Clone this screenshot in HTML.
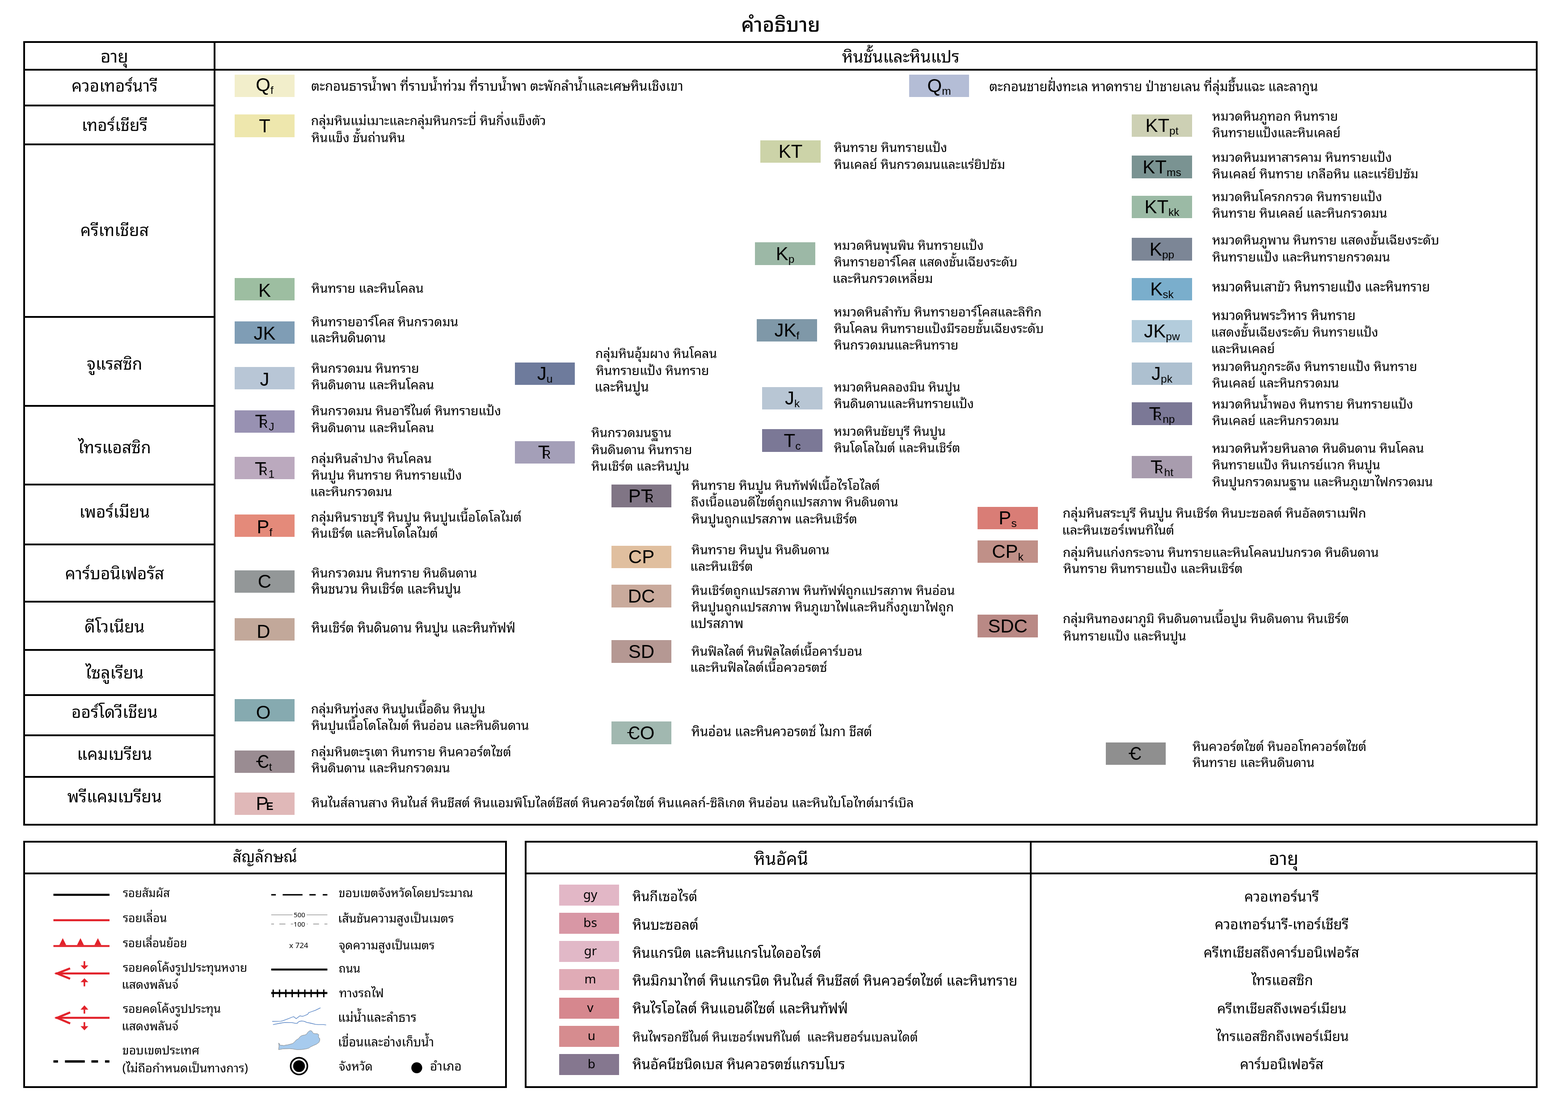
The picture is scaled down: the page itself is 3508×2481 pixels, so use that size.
<!DOCTYPE html>
<html lang="th"><head><meta charset="utf-8"><title>คำอธิบาย</title>
<style>
html,body{margin:0;padding:0;background:#fff}
body{width:3508px;height:2481px;position:relative;overflow:hidden;color:#000}
body>div{position:absolute;white-space:nowrap}
.sw{overflow:visible}
.st{position:absolute;left:0;right:0;top:0;height:100%;text-align:center;font-family:'Liberation Sans',Arial,sans-serif;font-size:42px;line-height:1;white-space:nowrap}
.st{top:calc(50% - 21px);height:auto}
.sb{font-size:24.5px;position:relative;top:6px}
.tr{display:inline-block}
.tr>span{font-size:27px;margin-left:-16.6px;margin-right:2px}
.pe>span{font-size:24px;font-weight:700;margin-left:-5px}
.cb{display:inline-block;position:relative;transform:scaleX(.86);transform-origin:0 50%;margin-right:-4.2px}
.cb::before{content:'';position:absolute;left:-3.4px;width:17px;top:19.4px;height:2.6px;background:#000}
.igt{position:absolute;left:0;right:0;top:0;text-align:center;font-family:'Noto Sans Thai Looped','Noto Sans Thai','Liberation Sans',sans-serif;font-size:28px;line-height:44px}
svg{position:absolute;left:0;top:0}
</style></head><body>
<div style="left:52px;top:92px;width:3388px;height:4px;background:#000;"></div><div style="left:52px;top:1843px;width:3388px;height:4px;background:#000;"></div><div style="left:52px;top:92px;width:4px;height:1755px;background:#000;"></div><div style="left:3436px;top:92px;width:4px;height:1755px;background:#000;"></div><div style="left:478px;top:92px;width:4px;height:1755px;background:#000;"></div><div style="left:52px;top:154px;width:3388px;height:4px;background:#000;"></div><div style="left:52px;top:234px;width:430px;height:4px;background:#000;"></div><div style="left:52px;top:321px;width:430px;height:4px;background:#000;"></div><div style="left:52px;top:707px;width:430px;height:4px;background:#000;"></div><div style="left:52px;top:906px;width:430px;height:4px;background:#000;"></div><div style="left:52px;top:1082px;width:430px;height:4px;background:#000;"></div><div style="left:52px;top:1216px;width:430px;height:4px;background:#000;"></div><div style="left:52px;top:1344px;width:430px;height:4px;background:#000;"></div><div style="left:52px;top:1452px;width:430px;height:4px;background:#000;"></div><div style="left:52px;top:1553px;width:430px;height:4px;background:#000;"></div><div style="left:52px;top:1643px;width:430px;height:4px;background:#000;"></div><div style="left:52px;top:1736px;width:430px;height:4px;background:#000;"></div><div style="left:52px;top:1881px;width:1082px;height:4px;background:#000;"></div><div style="left:52px;top:2430px;width:1082px;height:4px;background:#000;"></div><div style="left:52px;top:1881px;width:4px;height:553px;background:#000;"></div><div style="left:1130px;top:1881px;width:4px;height:553px;background:#000;"></div><div style="left:52px;top:1952px;width:1082px;height:4px;background:#000;"></div><div style="left:1174px;top:1881px;width:2266px;height:4px;background:#000;"></div><div style="left:1174px;top:2430px;width:2266px;height:4px;background:#000;"></div><div style="left:1174px;top:1881px;width:4px;height:553px;background:#000;"></div><div style="left:3436px;top:1881px;width:4px;height:553px;background:#000;"></div><div style="left:2304px;top:1881px;width:4px;height:553px;background:#000;"></div><div style="left:1174px;top:1952px;width:2266px;height:4px;background:#000;"></div>
<div class="sw" style="left:525px;top:167px;width:134px;height:50px;background:#f2eecb"><div class="st" style="transform:translate(0px,-2px)">Q<span class="sb">f</span></div></div><div class="sw" style="left:525px;top:256px;width:134px;height:51px;background:#eee7ad"><div class="st">T</div></div><div class="sw" style="left:525px;top:622px;width:134px;height:50px;background:#9dbea1"><div class="st" style="transform:translate(0px,3px)">K</div></div><div class="sw" style="left:525px;top:719px;width:134px;height:50px;background:#7f9db5"><div class="st" style="transform:translate(0px,2px)">JK</div></div><div class="sw" style="left:525px;top:821px;width:134px;height:50px;background:#b8c6d6"><div class="st" style="transform:translate(0px,3px)">J</div></div><div class="sw" style="left:525px;top:918px;width:134px;height:50px;background:#9891b2"><div class="st"><span class="tr">T<span>R</span></span><span class="sb">J</span></div></div><div class="sw" style="left:525px;top:1022px;width:134px;height:50px;background:#bba9be"><div class="st" style="transform:translate(0px,2px)"><span class="tr">T<span>R</span></span><span class="sb">1</span></div></div><div class="sw" style="left:525px;top:1151px;width:134px;height:50px;background:#e48a7a"><div class="st" style="transform:translate(0px,3px)">P<span class="sb">f</span></div></div><div class="sw" style="left:525px;top:1276px;width:134px;height:50px;background:#939798"><div class="st">C</div></div><div class="sw" style="left:525px;top:1383px;width:134px;height:50px;background:#c2a89a"><div class="st" style="transform:translate(-2.5px,4.5px)">D</div></div><div class="sw" style="left:525px;top:1564px;width:134px;height:50px;background:#86aab0"><div class="st" style="transform:translate(-2.8px,5px)">O</div></div><div class="sw" style="left:525px;top:1679px;width:134px;height:50px;background:#9a8c92"><div class="st"><span class="cb">C</span><span class="sb">t</span></div></div><div class="sw" style="left:525px;top:1773px;width:134px;height:50px;background:#e0b8b8"><div class="st"><span class="pe">P<span>E</span></span></div></div><div class="sw" style="left:1152px;top:811px;width:134px;height:50px;background:#6e7b9c"><div class="st">J<span class="sb">u</span></div></div><div class="sw" style="left:1152px;top:987px;width:134px;height:50px;background:#a49fb8"><div class="st"><span class="tr">T<span>R</span></span></div></div><div class="sw" style="left:1368px;top:1084px;width:134px;height:51px;background:#807585"><div class="st">P<span class="tr">T<span>R</span></span></div></div><div class="sw" style="left:1368px;top:1221px;width:134px;height:50px;background:#e0bf9f"><div class="st">CP</div></div><div class="sw" style="left:1368px;top:1308px;width:134px;height:51px;background:#c9aa9c"><div class="st">DC</div></div><div class="sw" style="left:1368px;top:1432px;width:134px;height:51px;background:#b59893"><div class="st">SD</div></div><div class="sw" style="left:1368px;top:1614px;width:134px;height:51px;background:#a1b8b0"><div class="st"><span class="cb">C</span>O</div></div><div class="sw" style="left:1701px;top:314px;width:135px;height:50px;background:#ccd3a8"><div class="st">KT</div></div><div class="sw" style="left:1689px;top:542px;width:135px;height:51px;background:#9cb8a6"><div class="st">K<span class="sb">p</span></div></div><div class="sw" style="left:1693px;top:714px;width:135px;height:50px;background:#7f98a8"><div class="st">JK<span class="sb">f</span></div></div><div class="sw" style="left:1705px;top:866px;width:135px;height:50px;background:#b8c6d4"><div class="st">J<span class="sb">k</span></div></div><div class="sw" style="left:1705px;top:960px;width:135px;height:51px;background:#7b7896"><div class="st">T<span class="sb">c</span></div></div><div class="sw" style="left:2187px;top:1134px;width:135px;height:50px;background:#d97d76"><div class="st">P<span class="sb">s</span></div></div><div class="sw" style="left:2187px;top:1209px;width:135px;height:50px;background:#c09088"><div class="st">CP<span class="sb">k</span></div></div><div class="sw" style="left:2187px;top:1375px;width:135px;height:51px;background:#b98985"><div class="st">SDC</div></div><div class="sw" style="left:2034px;top:167px;width:134px;height:50px;background:#b4bdd6"><div class="st">Q<span class="sb">m</span></div></div><div class="sw" style="left:2532px;top:256px;width:135px;height:50px;background:#cdd0b4"><div class="st">KT<span class="sb">pt</span></div></div><div class="sw" style="left:2532px;top:348px;width:135px;height:51px;background:#7a9392"><div class="st">KT<span class="sb">ms</span></div></div><div class="sw" style="left:2532px;top:438px;width:135px;height:50px;background:#9bbaa5"><div class="st">KT<span class="sb">kk</span></div></div><div class="sw" style="left:2532px;top:532px;width:135px;height:51px;background:#7c8696"><div class="st">K<span class="sb">pp</span></div></div><div class="sw" style="left:2532px;top:622px;width:135px;height:50px;background:#7aaecc"><div class="st">K<span class="sb">sk</span></div></div><div class="sw" style="left:2532px;top:716px;width:135px;height:50px;background:#b3ccdc"><div class="st">JK<span class="sb">pw</span></div></div><div class="sw" style="left:2532px;top:811px;width:135px;height:50px;background:#adc0d0"><div class="st">J<span class="sb">pk</span></div></div><div class="sw" style="left:2532px;top:900px;width:135px;height:51px;background:#7b7896"><div class="st"><span class="tr">T<span>R</span></span><span class="sb">np</span></div></div><div class="sw" style="left:2532px;top:1020px;width:135px;height:50px;background:#a89cae"><div class="st"><span class="tr">T<span>R</span></span><span class="sb">ht</span></div></div><div class="sw" style="left:2474px;top:1661px;width:134px;height:50px;background:#8f8f8f"><div class="st"><span class="cb">C</span></div></div><div class="sw" style="left:1251px;top:1979px;width:134px;height:47px;background:#e2b7c6"><div class="igt" style="transform:translate(2.5px,-2px)"><span class="ig">gy</span></div></div><div class="sw" style="left:1251px;top:2042px;width:134px;height:47px;background:#d897a5"><div class="igt" style="transform:translate(2.5px,-2px)"><span class="ig">bs</span></div></div><div class="sw" style="left:1251px;top:2105px;width:134px;height:47px;background:#e1b8c7"><div class="igt" style="transform:translate(3px,-2px)"><span class="ig">gr</span></div></div><div class="sw" style="left:1251px;top:2168px;width:134px;height:47px;background:#e0abb6"><div class="igt" style="transform:translate(2.5px,-2px)"><span class="ig">m</span></div></div><div class="sw" style="left:1251px;top:2232px;width:134px;height:47px;background:#d6878e"><div class="igt" style="transform:translate(2.5px,-2px)"><span class="ig">v</span></div></div><div class="sw" style="left:1251px;top:2295px;width:134px;height:47px;background:#d68c8f"><div class="igt" style="transform:translate(5.4px,-2px)"><span class="ig">u</span></div></div><div class="sw" style="left:1251px;top:2358px;width:134px;height:47px;background:#85778f"><div class="igt" style="transform:translate(5.4px,-2px)"><span class="ig">b</span></div></div>
<div style="left:1658.3px;top:17.8px;font-family:'Noto Sans Thai Looped','Noto Sans Thai','Liberation Sans',sans-serif;font-size:44.94px;font-weight:520;line-height:67px;">คำอธิบาย</div><div style="left:224.9px;top:93.7px;font-family:'Noto Sans Thai Looped','Noto Sans Thai','Liberation Sans',sans-serif;font-size:38.67px;font-weight:400;line-height:58px;">อายุ</div><div style="left:1883.9px;top:95.5px;font-family:'Noto Sans Thai Looped','Noto Sans Thai','Liberation Sans',sans-serif;font-size:37.16px;font-weight:400;line-height:56px;">หินชั้นและหินแปร</div><div style="left:-743.7px;top:161.0px;width:2000px;text-align:center;font-family:'Noto Sans Thai Looped','Noto Sans Thai','Liberation Sans',sans-serif;font-size:36.8px;font-weight:400;line-height:55px;">ควอเทอร์นารี</div><div style="left:-743.7px;top:248.5px;width:2000px;text-align:center;font-family:'Noto Sans Thai Looped','Noto Sans Thai','Liberation Sans',sans-serif;font-size:36.8px;font-weight:400;line-height:55px;">เทอร์เชียรี</div><div style="left:-743.7px;top:483.6px;width:2000px;text-align:center;font-family:'Noto Sans Thai Looped','Noto Sans Thai','Liberation Sans',sans-serif;font-size:36.8px;font-weight:400;line-height:55px;">ครีเทเชียส</div><div style="left:-743.7px;top:783.0px;width:2000px;text-align:center;font-family:'Noto Sans Thai Looped','Noto Sans Thai','Liberation Sans',sans-serif;font-size:36.8px;font-weight:400;line-height:55px;">จูแรสซิก</div><div style="left:-743.7px;top:970.0px;width:2000px;text-align:center;font-family:'Noto Sans Thai Looped','Noto Sans Thai','Liberation Sans',sans-serif;font-size:36.8px;font-weight:400;line-height:55px;">ไทรแอสซิก</div><div style="left:-743.7px;top:1114.0px;width:2000px;text-align:center;font-family:'Noto Sans Thai Looped','Noto Sans Thai','Liberation Sans',sans-serif;font-size:36.8px;font-weight:400;line-height:55px;">เพอร์เมียน</div><div style="left:-743.7px;top:1251.5px;width:2000px;text-align:center;font-family:'Noto Sans Thai Looped','Noto Sans Thai','Liberation Sans',sans-serif;font-size:36.8px;font-weight:400;line-height:55px;">คาร์บอนิเฟอรัส</div><div style="left:-743.7px;top:1370.7px;width:2000px;text-align:center;font-family:'Noto Sans Thai Looped','Noto Sans Thai','Liberation Sans',sans-serif;font-size:36.8px;font-weight:400;line-height:55px;">ดีโวเนียน</div><div style="left:-743.7px;top:1474.0px;width:2000px;text-align:center;font-family:'Noto Sans Thai Looped','Noto Sans Thai','Liberation Sans',sans-serif;font-size:36.8px;font-weight:400;line-height:55px;">ไซลูเรียน</div><div style="left:-743.7px;top:1561.8px;width:2000px;text-align:center;font-family:'Noto Sans Thai Looped','Noto Sans Thai','Liberation Sans',sans-serif;font-size:36.8px;font-weight:400;line-height:55px;">ออร์โดวีเชียน</div><div style="left:-743.7px;top:1656.4px;width:2000px;text-align:center;font-family:'Noto Sans Thai Looped','Noto Sans Thai','Liberation Sans',sans-serif;font-size:36.8px;font-weight:400;line-height:55px;">แคมเบรียน</div><div style="left:-743.7px;top:1751.0px;width:2000px;text-align:center;font-family:'Noto Sans Thai Looped','Noto Sans Thai','Liberation Sans',sans-serif;font-size:36.8px;font-weight:400;line-height:55px;">พรีแคมเบรียน</div><div style="left:696.2px;top:168.0px;font-family:'Noto Sans Thai Looped','Noto Sans Thai','Liberation Sans',sans-serif;font-size:29.46px;font-weight:400;line-height:44px;">ตะกอนธารน้ำพา ที่ราบน้ำท่วม ที่ราบน้ำพา ตะพักลำน้ำและเศษหินเชิงเขา</div><div style="left:695.7px;top:246.0px;font-family:'Noto Sans Thai Looped','Noto Sans Thai','Liberation Sans',sans-serif;font-size:28.47px;font-weight:400;line-height:43px;">กลุ่มหินแม่เมาะและกลุ่มหินกระบี่ หินกึ่งแข็งตัว</div><div style="left:696.8px;top:284.0px;font-family:'Noto Sans Thai Looped','Noto Sans Thai','Liberation Sans',sans-serif;font-size:28.52px;font-weight:400;line-height:43px;">หินแข็ง ชั้นถ่านหิน</div><div style="left:696.8px;top:620.5px;font-family:'Noto Sans Thai Looped','Noto Sans Thai','Liberation Sans',sans-serif;font-size:28.56px;font-weight:400;line-height:43px;">หินทราย และหินโคลน</div><div style="left:696.8px;top:695.6px;font-family:'Noto Sans Thai Looped','Noto Sans Thai','Liberation Sans',sans-serif;font-size:28.57px;font-weight:400;line-height:43px;">หินทรายอาร์โคส หินกรวดมน</div><div style="left:693.9px;top:731.0px;font-family:'Noto Sans Thai Looped','Noto Sans Thai','Liberation Sans',sans-serif;font-size:29.1px;font-weight:400;line-height:44px;">และหินดินดาน</div><div style="left:696.8px;top:799.5px;font-family:'Noto Sans Thai Looped','Noto Sans Thai','Liberation Sans',sans-serif;font-size:28.51px;font-weight:400;line-height:43px;">หินกรวดมน หินทราย</div><div style="left:696.8px;top:837.0px;font-family:'Noto Sans Thai Looped','Noto Sans Thai','Liberation Sans',sans-serif;font-size:28.72px;font-weight:400;line-height:43px;">หินดินดาน และหินโคลน</div><div style="left:696.8px;top:894.5px;font-family:'Noto Sans Thai Looped','Noto Sans Thai','Liberation Sans',sans-serif;font-size:28.62px;font-weight:400;line-height:43px;">หินกรวดมน หินอารีไนต์ หินทรายแป้ง</div><div style="left:696.8px;top:932.5px;font-family:'Noto Sans Thai Looped','Noto Sans Thai','Liberation Sans',sans-serif;font-size:28.72px;font-weight:400;line-height:43px;">หินดินดาน และหินโคลน</div><div style="left:695.7px;top:1001.9px;font-family:'Noto Sans Thai Looped','Noto Sans Thai','Liberation Sans',sans-serif;font-size:28.67px;font-weight:400;line-height:43px;">กลุ่มหินลำปาง หินโคลน</div><div style="left:696.8px;top:1038.5px;font-family:'Noto Sans Thai Looped','Noto Sans Thai','Liberation Sans',sans-serif;font-size:28.7px;font-weight:400;line-height:43px;">หินปูน หินทราย หินทรายแป้ง</div><div style="left:693.9px;top:1076.0px;font-family:'Noto Sans Thai Looped','Noto Sans Thai','Liberation Sans',sans-serif;font-size:28.9px;font-weight:400;line-height:43px;">และหินกรวดมน</div><div style="left:695.7px;top:1133.0px;font-family:'Noto Sans Thai Looped','Noto Sans Thai','Liberation Sans',sans-serif;font-size:28.73px;font-weight:400;line-height:43px;">กลุ่มหินราชบุรี หินปูน หินปูนเนื้อโดโลไมต์</div><div style="left:696.8px;top:1170.0px;font-family:'Noto Sans Thai Looped','Noto Sans Thai','Liberation Sans',sans-serif;font-size:28.26px;font-weight:400;line-height:42px;">หินเชิร์ต และหินโดโลไมต์</div><div style="left:696.8px;top:1258.0px;font-family:'Noto Sans Thai Looped','Noto Sans Thai','Liberation Sans',sans-serif;font-size:28.66px;font-weight:400;line-height:43px;">หินกรวดมน หินทราย หินดินดาน</div><div style="left:696.8px;top:1293.4px;font-family:'Noto Sans Thai Looped','Noto Sans Thai','Liberation Sans',sans-serif;font-size:29.03px;font-weight:400;line-height:44px;">หินชนวน หินเชิร์ต และหินปูน</div><div style="left:696.8px;top:1381.0px;font-family:'Noto Sans Thai Looped','Noto Sans Thai','Liberation Sans',sans-serif;font-size:28.95px;font-weight:400;line-height:43px;">หินเชิร์ต หินดินดาน หินปูน และหินทัฟฟ์</div><div style="left:695.7px;top:1563.2px;font-family:'Noto Sans Thai Looped','Noto Sans Thai','Liberation Sans',sans-serif;font-size:28.28px;font-weight:400;line-height:42px;">กลุ่มหินทุ่งสง หินปูนเนื้อดิน หินปูน</div><div style="left:696.8px;top:1599.0px;font-family:'Noto Sans Thai Looped','Noto Sans Thai','Liberation Sans',sans-serif;font-size:28.52px;font-weight:400;line-height:43px;">หินปูนเนื้อโดโลไมต์ หินอ่อน และหินดินดาน</div><div style="left:695.7px;top:1658.3px;font-family:'Noto Sans Thai Looped','Noto Sans Thai','Liberation Sans',sans-serif;font-size:28.69px;font-weight:400;line-height:43px;">กลุ่มหินตะรุเตา หินทราย หินควอร์ตไซต์</div><div style="left:696.8px;top:1694.2px;font-family:'Noto Sans Thai Looped','Noto Sans Thai','Liberation Sans',sans-serif;font-size:28.68px;font-weight:400;line-height:43px;">หินดินดาน และหินกรวดมน</div><div style="left:696.8px;top:1772.0px;font-family:'Noto Sans Thai Looped','Noto Sans Thai','Liberation Sans',sans-serif;font-size:28.79px;font-weight:400;line-height:43px;">หินไนส์ลานสาง หินไนส์ หินชีสต์ หินแอมพิโบไลต์ชีสต์ หินควอร์ตไซต์ หินแคลก์-ซิลิเกต หินอ่อน และหินไบโอไทต์มาร์เบิล</div><div style="left:1332.0px;top:768.4px;font-family:'Noto Sans Thai Looped','Noto Sans Thai','Liberation Sans',sans-serif;font-size:28.16px;font-weight:400;line-height:42px;">กลุ่มหินอุ้มผาง หินโคลน</div><div style="left:1333.1px;top:805.0px;font-family:'Noto Sans Thai Looped','Noto Sans Thai','Liberation Sans',sans-serif;font-size:28.41px;font-weight:400;line-height:43px;">หินทรายแป้ง หินทราย</div><div style="left:1330.2px;top:841.0px;font-family:'Noto Sans Thai Looped','Noto Sans Thai','Liberation Sans',sans-serif;font-size:29.25px;font-weight:400;line-height:44px;">และหินปูน</div><div style="left:1322.9px;top:944.5px;font-family:'Noto Sans Thai Looped','Noto Sans Thai','Liberation Sans',sans-serif;font-size:28.31px;font-weight:400;line-height:42px;">หินกรวดมนฐาน</div><div style="left:1322.9px;top:981.8px;font-family:'Noto Sans Thai Looped','Noto Sans Thai','Liberation Sans',sans-serif;font-size:28.52px;font-weight:400;line-height:43px;">หินดินดาน หินทราย</div><div style="left:1322.9px;top:1019.0px;font-family:'Noto Sans Thai Looped','Noto Sans Thai','Liberation Sans',sans-serif;font-size:28.48px;font-weight:400;line-height:43px;">หินเชิร์ต และหินปูน</div><div style="left:1546.9px;top:1062.2px;font-family:'Noto Sans Thai Looped','Noto Sans Thai','Liberation Sans',sans-serif;font-size:28.67px;font-weight:400;line-height:43px;">หินทราย หินปูน หินทัฟฟ์เนื้อไรโอไลต์</div><div style="left:1545.8px;top:1100.0px;font-family:'Noto Sans Thai Looped','Noto Sans Thai','Liberation Sans',sans-serif;font-size:28.28px;font-weight:400;line-height:42px;">ถึงเนื้อแอนดีไซต์ถูกแปรสภาพ หินดินดาน</div><div style="left:1546.9px;top:1136.7px;font-family:'Noto Sans Thai Looped','Noto Sans Thai','Liberation Sans',sans-serif;font-size:28.64px;font-weight:400;line-height:43px;">หินปูนถูกแปรสภาพ และหินเชิร์ต</div><div style="left:1546.9px;top:1206.0px;font-family:'Noto Sans Thai Looped','Noto Sans Thai','Liberation Sans',sans-serif;font-size:28.81px;font-weight:400;line-height:43px;">หินทราย หินปูน หินดินดาน</div><div style="left:1544.0px;top:1243.0px;font-family:'Noto Sans Thai Looped','Noto Sans Thai','Liberation Sans',sans-serif;font-size:28.78px;font-weight:400;line-height:43px;">และหินเชิร์ต</div><div style="left:1546.9px;top:1296.5px;font-family:'Noto Sans Thai Looped','Noto Sans Thai','Liberation Sans',sans-serif;font-size:28.43px;font-weight:400;line-height:43px;">หินเชิร์ตถูกแปรสภาพ หินทัฟฟ์ถูกแปรสภาพ หินอ่อน</div><div style="left:1546.9px;top:1333.8px;font-family:'Noto Sans Thai Looped','Noto Sans Thai','Liberation Sans',sans-serif;font-size:28.58px;font-weight:400;line-height:43px;">หินปูนถูกแปรสภาพ หินภูเขาไฟและหินกึ่งภูเขาไฟถูก</div><div style="left:1543.9px;top:1370.2px;font-family:'Noto Sans Thai Looped','Noto Sans Thai','Liberation Sans',sans-serif;font-size:29.65px;font-weight:400;line-height:44px;">แปรสภาพ</div><div style="left:1546.9px;top:1433.0px;font-family:'Noto Sans Thai Looped','Noto Sans Thai','Liberation Sans',sans-serif;font-size:28.51px;font-weight:400;line-height:43px;">หินฟิลไลต์ หินฟิลไลต์เนื้อคาร์บอน</div><div style="left:1544.0px;top:1469.0px;font-family:'Noto Sans Thai Looped','Noto Sans Thai','Liberation Sans',sans-serif;font-size:28.85px;font-weight:400;line-height:43px;">และหินฟิลไลต์เนื้อควอรตซ์</div><div style="left:1547.0px;top:1611.7px;font-family:'Noto Sans Thai Looped','Noto Sans Thai','Liberation Sans',sans-serif;font-size:29.08px;font-weight:400;line-height:44px;">หินอ่อน และหินควอรตซ์ ไมกา ชีสต์</div><div style="left:1865.4px;top:305.7px;font-family:'Noto Sans Thai Looped','Noto Sans Thai','Liberation Sans',sans-serif;font-size:28.46px;font-weight:400;line-height:43px;">หินทราย หินทรายแป้ง</div><div style="left:1865.4px;top:344.6px;font-family:'Noto Sans Thai Looped','Noto Sans Thai','Liberation Sans',sans-serif;font-size:28.22px;font-weight:400;line-height:42px;">หินเคลย์ หินกรวดมนและแร่ยิปซัม</div><div style="left:1865.4px;top:524.7px;font-family:'Noto Sans Thai Looped','Noto Sans Thai','Liberation Sans',sans-serif;font-size:28.36px;font-weight:400;line-height:43px;">หมวดหินพุนพิน หินทรายแป้ง</div><div style="left:1865.4px;top:562.8px;font-family:'Noto Sans Thai Looped','Noto Sans Thai','Liberation Sans',sans-serif;font-size:28.3px;font-weight:400;line-height:42px;">หินทรายอาร์โคส แสดงชั้นเฉียงระดับ</div><div style="left:1862.5px;top:599.0px;font-family:'Noto Sans Thai Looped','Noto Sans Thai','Liberation Sans',sans-serif;font-size:28.51px;font-weight:400;line-height:43px;">และหินกรวดเหลี่ยม</div><div style="left:1865.4px;top:673.8px;font-family:'Noto Sans Thai Looped','Noto Sans Thai','Liberation Sans',sans-serif;font-size:28.75px;font-weight:400;line-height:43px;">หมวดหินลำทับ หินทรายอาร์โคสและลิทิก</div><div style="left:1865.4px;top:712.0px;font-family:'Noto Sans Thai Looped','Noto Sans Thai','Liberation Sans',sans-serif;font-size:28.16px;font-weight:400;line-height:42px;">หินโคลน หินทรายแป้งมีรอยชั้นเฉียงระดับ</div><div style="left:1865.4px;top:748.2px;font-family:'Noto Sans Thai Looped','Noto Sans Thai','Liberation Sans',sans-serif;font-size:28.46px;font-weight:400;line-height:43px;">หินกรวดมนและหินทราย</div><div style="left:1865.4px;top:843.3px;font-family:'Noto Sans Thai Looped','Noto Sans Thai','Liberation Sans',sans-serif;font-size:28.08px;font-weight:400;line-height:42px;">หมวดหินคลองมิน หินปูน</div><div style="left:1865.4px;top:879.3px;font-family:'Noto Sans Thai Looped','Noto Sans Thai','Liberation Sans',sans-serif;font-size:28.45px;font-weight:400;line-height:43px;">หินดินดานและหินทรายแป้ง</div><div style="left:1865.4px;top:940.5px;font-family:'Noto Sans Thai Looped','Noto Sans Thai','Liberation Sans',sans-serif;font-size:28.46px;font-weight:400;line-height:43px;">หมวดหินชัยบุรี หินปูน</div><div style="left:1865.4px;top:979.3px;font-family:'Noto Sans Thai Looped','Noto Sans Thai','Liberation Sans',sans-serif;font-size:28.26px;font-weight:400;line-height:42px;">หินโดโลไมต์ และหินเชิร์ต</div><div style="left:2377.6px;top:1123.5px;font-family:'Noto Sans Thai Looped','Noto Sans Thai','Liberation Sans',sans-serif;font-size:28.86px;font-weight:400;line-height:43px;">กลุ่มหินสระบุรี หินปูน หินเชิร์ต หินบะซอลต์ หินอัลตราเมฟิก</div><div style="left:2375.9px;top:1161.5px;font-family:'Noto Sans Thai Looped','Noto Sans Thai','Liberation Sans',sans-serif;font-size:28.74px;font-weight:400;line-height:43px;">และหินเซอร์เพนทิไนต์</div><div style="left:2377.7px;top:1212.3px;font-family:'Noto Sans Thai Looped','Noto Sans Thai','Liberation Sans',sans-serif;font-size:28.66px;font-weight:400;line-height:43px;">กลุ่มหินแก่งกระจาน หินทรายและหินโคลนปนกรวด หินดินดาน</div><div style="left:2378.8px;top:1248.2px;font-family:'Noto Sans Thai Looped','Noto Sans Thai','Liberation Sans',sans-serif;font-size:28.56px;font-weight:400;line-height:43px;">หินทราย หินทรายแป้ง และหินเชิร์ต</div><div style="left:2377.7px;top:1360.4px;font-family:'Noto Sans Thai Looped','Noto Sans Thai','Liberation Sans',sans-serif;font-size:28.49px;font-weight:400;line-height:43px;">กลุ่มหินทองผาภูมิ หินดินดานเนื้อปูน หินดินดาน หินเชิร์ต</div><div style="left:2378.8px;top:1398.6px;font-family:'Noto Sans Thai Looped','Noto Sans Thai','Liberation Sans',sans-serif;font-size:28.57px;font-weight:400;line-height:43px;">หินทรายแป้ง และหินปูน</div><div style="left:2213.2px;top:168.5px;font-family:'Noto Sans Thai Looped','Noto Sans Thai','Liberation Sans',sans-serif;font-size:29.21px;font-weight:400;line-height:44px;">ตะกอนชายฝั่งทะเล หาดทราย ป่าชายเลน ที่ลุ่มชื้นแฉะ และลากูน</div><div style="left:2712.0px;top:235.5px;font-family:'Noto Sans Thai Looped','Noto Sans Thai','Liberation Sans',sans-serif;font-size:28.47px;font-weight:400;line-height:43px;">หมวดหินภูทอก หินทราย</div><div style="left:2712.0px;top:273.6px;font-family:'Noto Sans Thai Looped','Noto Sans Thai','Liberation Sans',sans-serif;font-size:28.0px;font-weight:400;line-height:42px;">หินทรายแป้งและหินเคลย์</div><div style="left:2712.0px;top:328.2px;font-family:'Noto Sans Thai Looped','Noto Sans Thai','Liberation Sans',sans-serif;font-size:28.65px;font-weight:400;line-height:43px;">หมวดหินมหาสารคาม หินทรายแป้ง</div><div style="left:2712.0px;top:364.7px;font-family:'Noto Sans Thai Looped','Noto Sans Thai','Liberation Sans',sans-serif;font-size:28.49px;font-weight:400;line-height:43px;">หินเคลย์ หินทราย เกลือหิน และแร่ยิปซัม</div><div style="left:2712.0px;top:417.2px;font-family:'Noto Sans Thai Looped','Noto Sans Thai','Liberation Sans',sans-serif;font-size:28.22px;font-weight:400;line-height:42px;">หมวดหินโครกกรวด หินทรายแป้ง</div><div style="left:2712.0px;top:453.0px;font-family:'Noto Sans Thai Looped','Noto Sans Thai','Liberation Sans',sans-serif;font-size:28.46px;font-weight:400;line-height:43px;">หินทราย หินเคลย์ และหินกรวดมน</div><div style="left:2712.0px;top:513.4px;font-family:'Noto Sans Thai Looped','Noto Sans Thai','Liberation Sans',sans-serif;font-size:28.52px;font-weight:400;line-height:43px;">หมวดหินภูพาน หินทราย แสดงชั้นเฉียงระดับ</div><div style="left:2712.0px;top:551.4px;font-family:'Noto Sans Thai Looped','Noto Sans Thai','Liberation Sans',sans-serif;font-size:28.48px;font-weight:400;line-height:43px;">หินทรายแป้ง และหินทรายกรวดมน</div><div style="left:2712.0px;top:618.0px;font-family:'Noto Sans Thai Looped','Noto Sans Thai','Liberation Sans',sans-serif;font-size:28.93px;font-weight:400;line-height:43px;">หมวดหินเสาขัว หินทรายแป้ง และหินทราย</div><div style="left:2712.0px;top:681.2px;font-family:'Noto Sans Thai Looped','Noto Sans Thai','Liberation Sans',sans-serif;font-size:29.15px;font-weight:400;line-height:44px;">หมวดหินพระวิหาร หินทราย</div><div style="left:2709.2px;top:720.0px;font-family:'Noto Sans Thai Looped','Noto Sans Thai','Liberation Sans',sans-serif;font-size:28.28px;font-weight:400;line-height:42px;">แสดงชั้นเฉียงระดับ หินทรายแป้ง</div><div style="left:2709.2px;top:755.9px;font-family:'Noto Sans Thai Looped','Noto Sans Thai','Liberation Sans',sans-serif;font-size:28.35px;font-weight:400;line-height:43px;">และหินเคลย์</div><div style="left:2712.0px;top:796.2px;font-family:'Noto Sans Thai Looped','Noto Sans Thai','Liberation Sans',sans-serif;font-size:28.4px;font-weight:400;line-height:43px;">หมวดหินภูกระดึง หินทรายแป้ง หินทราย</div><div style="left:2712.0px;top:834.0px;font-family:'Noto Sans Thai Looped','Noto Sans Thai','Liberation Sans',sans-serif;font-size:28.22px;font-weight:400;line-height:42px;">หินเคลย์ และหินกรวดมน</div><div style="left:2712.0px;top:880.4px;font-family:'Noto Sans Thai Looped','Noto Sans Thai','Liberation Sans',sans-serif;font-size:28.6px;font-weight:400;line-height:43px;">หมวดหินน้ำพอง หินทราย หินทรายแป้ง</div><div style="left:2712.0px;top:918.0px;font-family:'Noto Sans Thai Looped','Noto Sans Thai','Liberation Sans',sans-serif;font-size:28.22px;font-weight:400;line-height:42px;">หินเคลย์ และหินกรวดมน</div><div style="left:2712.0px;top:979.0px;font-family:'Noto Sans Thai Looped','Noto Sans Thai','Liberation Sans',sans-serif;font-size:28.59px;font-weight:400;line-height:43px;">หมวดหินห้วยหินลาด หินดินดาน หินโคลน</div><div style="left:2712.0px;top:1017.1px;font-family:'Noto Sans Thai Looped','Noto Sans Thai','Liberation Sans',sans-serif;font-size:28.25px;font-weight:400;line-height:42px;">หินทรายแป้ง หินเกรย์แวก หินปูน</div><div style="left:2712.0px;top:1053.5px;font-family:'Noto Sans Thai Looped','Noto Sans Thai','Liberation Sans',sans-serif;font-size:28.71px;font-weight:400;line-height:43px;">หินปูนกรวดมนฐาน และหินภูเขาไฟกรวดมน</div><div style="left:2668.0px;top:1646.6px;font-family:'Noto Sans Thai Looped','Noto Sans Thai','Liberation Sans',sans-serif;font-size:28.33px;font-weight:400;line-height:42px;">หินควอร์ตไซต์ หินออโทควอร์ตไซต์</div><div style="left:2668.0px;top:1682.4px;font-family:'Noto Sans Thai Looped','Noto Sans Thai','Liberation Sans',sans-serif;font-size:28.7px;font-weight:400;line-height:43px;">หินทราย และหินดินดาน</div><div style="left:520.4px;top:1887.5px;font-family:'Noto Sans Thai Looped','Noto Sans Thai','Liberation Sans',sans-serif;font-size:34.37px;font-weight:400;line-height:52px;">สัญลักษณ์</div><div style="left:274.9px;top:1977.1px;font-family:'Noto Sans Thai Looped','Noto Sans Thai','Liberation Sans',sans-serif;font-size:25.6px;font-weight:400;line-height:38px;">รอยสัมผัส</div><div style="left:274.9px;top:2031.7px;font-family:'Noto Sans Thai Looped','Noto Sans Thai','Liberation Sans',sans-serif;font-size:26.07px;font-weight:400;line-height:39px;">รอยเลื่อน</div><div style="left:274.9px;top:2089.3px;font-family:'Noto Sans Thai Looped','Noto Sans Thai','Liberation Sans',sans-serif;font-size:25.64px;font-weight:400;line-height:38px;">รอยเลื่อนย้อย</div><div style="left:274.9px;top:2142.5px;font-family:'Noto Sans Thai Looped','Noto Sans Thai','Liberation Sans',sans-serif;font-size:26.25px;font-weight:400;line-height:39px;">รอยคดโค้งรูปประทุนหงาย</div><div style="left:272.2px;top:2180.0px;font-family:'Noto Sans Thai Looped','Noto Sans Thai','Liberation Sans',sans-serif;font-size:26.54px;font-weight:400;line-height:40px;">แสดงพลันจ์</div><div style="left:274.9px;top:2235.2px;font-family:'Noto Sans Thai Looped','Noto Sans Thai','Liberation Sans',sans-serif;font-size:26.15px;font-weight:400;line-height:39px;">รอยคดโค้งรูปประทุน</div><div style="left:272.2px;top:2273.0px;font-family:'Noto Sans Thai Looped','Noto Sans Thai','Liberation Sans',sans-serif;font-size:26.54px;font-weight:400;line-height:40px;">แสดงพลันจ์</div><div style="left:273.8px;top:2327.0px;font-family:'Noto Sans Thai Looped','Noto Sans Thai','Liberation Sans',sans-serif;font-size:26.76px;font-weight:400;line-height:40px;">ขอบเขตประเทศ</div><div style="left:273.8px;top:2365.7px;font-family:'Noto Sans Thai Looped','Noto Sans Thai','Liberation Sans',sans-serif;font-size:27.06px;font-weight:400;line-height:41px;">(ไม่ถือกำหนดเป็นทางการ)</div><div style="left:757.7px;top:1975.0px;font-family:'Noto Sans Thai Looped','Noto Sans Thai','Liberation Sans',sans-serif;font-size:26.76px;font-weight:400;line-height:40px;">ขอบเขตจังหวัดโดยประมาณ</div><div style="left:756.1px;top:2032.0px;font-family:'Noto Sans Thai Looped','Noto Sans Thai','Liberation Sans',sans-serif;font-size:26.98px;font-weight:400;line-height:40px;">เส้นชันความสูงเป็นเมตร</div><div style="left:758.3px;top:2091.5px;font-family:'Noto Sans Thai Looped','Noto Sans Thai','Liberation Sans',sans-serif;font-size:26.48px;font-weight:400;line-height:40px;">จุดความสูงเป็นเมตร</div><div style="left:757.8px;top:2144.7px;font-family:'Noto Sans Thai Looped','Noto Sans Thai','Liberation Sans',sans-serif;font-size:26.09px;font-weight:400;line-height:39px;">ถนน</div><div style="left:758.8px;top:2198.0px;font-family:'Noto Sans Thai Looped','Noto Sans Thai','Liberation Sans',sans-serif;font-size:27.01px;font-weight:400;line-height:41px;">ทางรถไฟ</div><div style="left:756.0px;top:2253.0px;font-family:'Noto Sans Thai Looped','Noto Sans Thai','Liberation Sans',sans-serif;font-size:27.73px;font-weight:400;line-height:42px;">แม่น้ำและลำธาร</div><div style="left:756.1px;top:2308.7px;font-family:'Noto Sans Thai Looped','Noto Sans Thai','Liberation Sans',sans-serif;font-size:27.39px;font-weight:400;line-height:41px;">เขื่อนและอ่างเก็บน้ำ</div><div style="left:758.3px;top:2362.7px;font-family:'Noto Sans Thai Looped','Noto Sans Thai','Liberation Sans',sans-serif;font-size:26.6px;font-weight:400;line-height:40px;">จังหวัด</div><div style="left:962.0px;top:2361.7px;font-family:'Noto Sans Thai Looped','Noto Sans Thai','Liberation Sans',sans-serif;font-size:27.81px;font-weight:400;line-height:42px;">อำเภอ</div><div style="left:657.1px;top:2033.7px;font-family:'Noto Sans Thai Looped','Noto Sans Thai','Liberation Sans',sans-serif;font-size:15px;font-weight:400;line-height:22px;">500</div><div style="left:656.8px;top:2054.7px;font-family:'Noto Sans Thai Looped','Noto Sans Thai','Liberation Sans',sans-serif;font-size:15px;font-weight:400;line-height:22px;">100</div><div style="left:647.0px;top:2101.0px;font-family:'Noto Sans Thai Looped','Noto Sans Thai','Liberation Sans',sans-serif;font-size:17px;font-weight:400;line-height:26px;">x 724</div><div style="left:1686.6px;top:1888.6px;font-family:'Noto Sans Thai Looped','Noto Sans Thai','Liberation Sans',sans-serif;font-size:38.83px;font-weight:400;line-height:58px;">หินอัคนี</div><div style="left:2838.8px;top:1884.8px;font-family:'Noto Sans Thai Looped','Noto Sans Thai','Liberation Sans',sans-serif;font-size:41.25px;font-weight:400;line-height:62px;">อายุ</div><div style="left:1414.9px;top:1980.2px;font-family:'Noto Sans Thai Looped','Noto Sans Thai','Liberation Sans',sans-serif;font-size:30.0px;font-weight:400;line-height:45px;">หินกีเซอไรต์</div><div style="left:2783.8px;top:1978.9px;font-family:'Noto Sans Thai Looped','Noto Sans Thai','Liberation Sans',sans-serif;font-size:31.95px;font-weight:400;line-height:48px;">ควอเทอร์นารี</div><div style="left:1414.9px;top:2043.1px;font-family:'Noto Sans Thai Looped','Noto Sans Thai','Liberation Sans',sans-serif;font-size:31.47px;font-weight:400;line-height:47px;">หินบะซอลต์</div><div style="left:2717.6px;top:2042.2px;font-family:'Noto Sans Thai Looped','Noto Sans Thai','Liberation Sans',sans-serif;font-size:31.37px;font-weight:400;line-height:47px;">ควอเทอร์นารี-เทอร์เชียรี</div><div style="left:1414.9px;top:2105.8px;font-family:'Noto Sans Thai Looped','Noto Sans Thai','Liberation Sans',sans-serif;font-size:30.84px;font-weight:400;line-height:46px;">หินแกรนิต และหินแกรโนไดออไรต์</div><div style="left:2692.8px;top:2105.5px;font-family:'Noto Sans Thai Looped','Noto Sans Thai','Liberation Sans',sans-serif;font-size:30.77px;font-weight:400;line-height:46px;">ครีเทเชียสถึงคาร์บอนิเฟอรัส</div><div style="left:1414.9px;top:2167.5px;font-family:'Noto Sans Thai Looped','Noto Sans Thai','Liberation Sans',sans-serif;font-size:31.51px;font-weight:400;line-height:47px;">หินมิกมาไทต์ หินแกรนิต หินไนส์ หินชีสต์ หินควอร์ตไซต์ และหินทราย</div><div style="left:2799.9px;top:2167.3px;font-family:'Noto Sans Thai Looped','Noto Sans Thai','Liberation Sans',sans-serif;font-size:31.07px;font-weight:400;line-height:47px;">ไทรแอสซิก</div><div style="left:1414.9px;top:2230.0px;font-family:'Noto Sans Thai Looped','Noto Sans Thai','Liberation Sans',sans-serif;font-size:31.32px;font-weight:400;line-height:47px;">หินไรโอไลต์ หินแอนดีไซต์ และหินทัฟฟ์</div><div style="left:2722.9px;top:2231.1px;font-family:'Noto Sans Thai Looped','Noto Sans Thai','Liberation Sans',sans-serif;font-size:30.27px;font-weight:400;line-height:45px;">ครีเทเชียสถึงเพอร์เมียน</div><div style="left:1414.9px;top:2296.8px;font-family:'Noto Sans Thai Looped','Noto Sans Thai','Liberation Sans',sans-serif;font-size:27.73px;font-weight:400;line-height:42px;">หินไพรอกซีไนต์ หินเซอร์เพนทิไนต์&nbsp; และหินฮอร์นเบลนไดต์</div><div style="left:2720.9px;top:2293.2px;font-family:'Noto Sans Thai Looped','Noto Sans Thai','Liberation Sans',sans-serif;font-size:30.17px;font-weight:400;line-height:45px;">ไทรแอสซิกถึงเพอร์เมียน</div><div style="left:1414.9px;top:2354.5px;font-family:'Noto Sans Thai Looped','Noto Sans Thai','Liberation Sans',sans-serif;font-size:31.26px;font-weight:400;line-height:47px;">หินอัคนีชนิดเบส หินควอรตซ์แกรบโบร</div><div style="left:2774.0px;top:2355.0px;font-family:'Noto Sans Thai Looped','Noto Sans Thai','Liberation Sans',sans-serif;font-size:31.04px;font-weight:400;line-height:47px;">คาร์บอนิเฟอรัส</div>
<svg width="3508" height="2481" viewBox="0 0 3508 2481" xmlns="http://www.w3.org/2000/svg">
<rect x="119.5" y="1999.5" width="125.5" height="4.6" fill="#000"/>
<rect x="119.5" y="2056.4" width="125.5" height="4.5" fill="#e2222a"/>
<rect x="119.5" y="2114.3" width="125.5" height="4.2" fill="#e2222a"/>
<path d="M132.6 2114.6 L140.4 2098.8 L148.2 2114.6 Z M172.2 2114.6 L180 2098.8 L187.8 2114.6 Z M211.2 2114.6 L219 2098.8 L226.8 2114.6 Z" fill="#e2222a"/>
<g stroke="#e2222a" stroke-width="4.6" fill="none">
<line x1="124" y1="2177.8" x2="245" y2="2177.8"/>
<polyline points="156.8,2166.3 127.5,2177.8 156.8,2189.6"/>
<line x1="124" y1="2277" x2="245" y2="2277"/>
<polyline points="157,2264.8 127.5,2277 157,2289.6"/>
</g>
<g fill="#e2222a">
<rect x="187" y="2150.3" width="3.6" height="10"/>
<path d="M180.2 2159.8 L197.6 2159.8 L188.9 2168.4 Z"/>
<path d="M180.2 2197.2 L197.6 2197.2 L188.9 2188.4 Z"/>
<rect x="187" y="2197" width="3.6" height="9.6"/>
<path d="M180.2 2258.8 L197.6 2258.8 L188.9 2249 Z"/>
<rect x="187" y="2258.6" width="3.6" height="9"/>
<rect x="187" y="2286.7" width="3.6" height="9.3"/>
<path d="M180.2 2295.8 L197.6 2295.8 L188.9 2305 Z"/>
</g>
<g fill="#000">
<rect x="119.5" y="2372" width="10.3" height="5.3"/>
<rect x="145.3" y="2372" width="44.4" height="5.3"/>
<rect x="204.5" y="2372" width="14.9" height="5.3"/>
<rect x="234.9" y="2372" width="9.9" height="5.3"/>
<rect x="606.8" y="2000.2" width="10.3" height="3.2"/>
<rect x="632.4" y="2000.2" width="44.4" height="3.2"/>
<rect x="692.2" y="2000.2" width="14.1" height="3.2"/>
<rect x="722" y="2000.2" width="10.4" height="3.2"/>
<rect x="606.8" y="2166.8" width="125.6" height="4.4"/>
<rect x="606.8" y="2219.3" width="125.6" height="4.4"/>
<rect x="609.7" y="2213.7" width="3" height="17.3"/>
<rect x="623.9" y="2213.7" width="3" height="17.3"/>
<rect x="638" y="2213.7" width="3" height="17.3"/>
<rect x="652.2" y="2213.7" width="3" height="17.3"/>
<rect x="666.3" y="2213.7" width="3" height="17.3"/>
<rect x="680.5" y="2213.7" width="3" height="17.3"/>
<rect x="694.6" y="2213.7" width="3" height="17.3"/>
<rect x="708.7" y="2213.7" width="3" height="17.3"/>
<rect x="722.9" y="2213.7" width="3" height="17.3"/>
</g>
<g stroke="#8a8a8a" stroke-width="1.4" fill="none">
<line x1="606.8" y1="2046.6" x2="654.4" y2="2046.6"/>
<line x1="686" y1="2046.6" x2="732.4" y2="2046.6"/>
<path d="M606.8 2067.3 H613 M625 2067.3 H638.5 M650.7 2067.3 H655.6 M686.6 2067.3 H688.5 M700.7 2067.3 H713.7 M725.9 2067.3 H732.4"/>
</g>
<g stroke="#5381c3" stroke-width="1.3" fill="none" stroke-linejoin="round" stroke-linecap="round">
<polyline points="609.5,2285 628.5,2284.6 632.5,2283.6 640.7,2280.6 656.2,2274.5 657.6,2274.8 662.7,2278.9 664.4,2277.5 671.1,2272.4 673.8,2273.3 677.9,2273.5 688.1,2269.4 690.8,2265.3 692.1,2265 705.7,2260.2 716.5,2254.8"/>
<polyline points="611.2,2292.1 627.1,2289 637.3,2287.3 652.8,2287.7 661,2289.4 665,2289.4 666.7,2287 669.8,2285 674.5,2284.2 679.9,2284.6 686.7,2287.3 694.9,2289 705.7,2291.7 711.1,2292.1 723.3,2292.1 729.1,2292.8"/>
</g>
<polygon points="623.4,2333.4 624.2,2340 623.4,2348.3 632.5,2346.6 647.4,2346 654.2,2346.6 664.4,2348.3 674.5,2348 684.7,2346.6 691.5,2344.6 694.9,2341.9 701.6,2338.8 708.4,2335.8 713.8,2331.7 715.5,2327 715.2,2322.9 713.1,2321.6 712.5,2318.2 713.1,2314.8 710.4,2312.8 705.7,2312.4 701.6,2312.1 699.6,2310 697.6,2306.7 694.9,2305.6 691.5,2306.7 688.1,2310 685.4,2314.1 681.3,2315.5 675.9,2316.5 671.8,2318.8 667.8,2323.6 662.3,2327 658.9,2331 654.9,2334.4 650.1,2335.8 643.4,2337.5 637.9,2338.2 635.2,2339.2 632.5,2338.5 626.1,2338.2 625.4,2335.1" fill="#a7cbee" stroke="#7d7d7d" stroke-width="0.9" stroke-linejoin="round"/>
<circle cx="669" cy="2385.1" r="18.7" fill="none" stroke="#000" stroke-width="3.6"/>
<circle cx="669" cy="2385.1" r="13.2" fill="#000"/>
<circle cx="932.4" cy="2388.8" r="12.2" fill="#000"/>
</svg>

</body></html>
